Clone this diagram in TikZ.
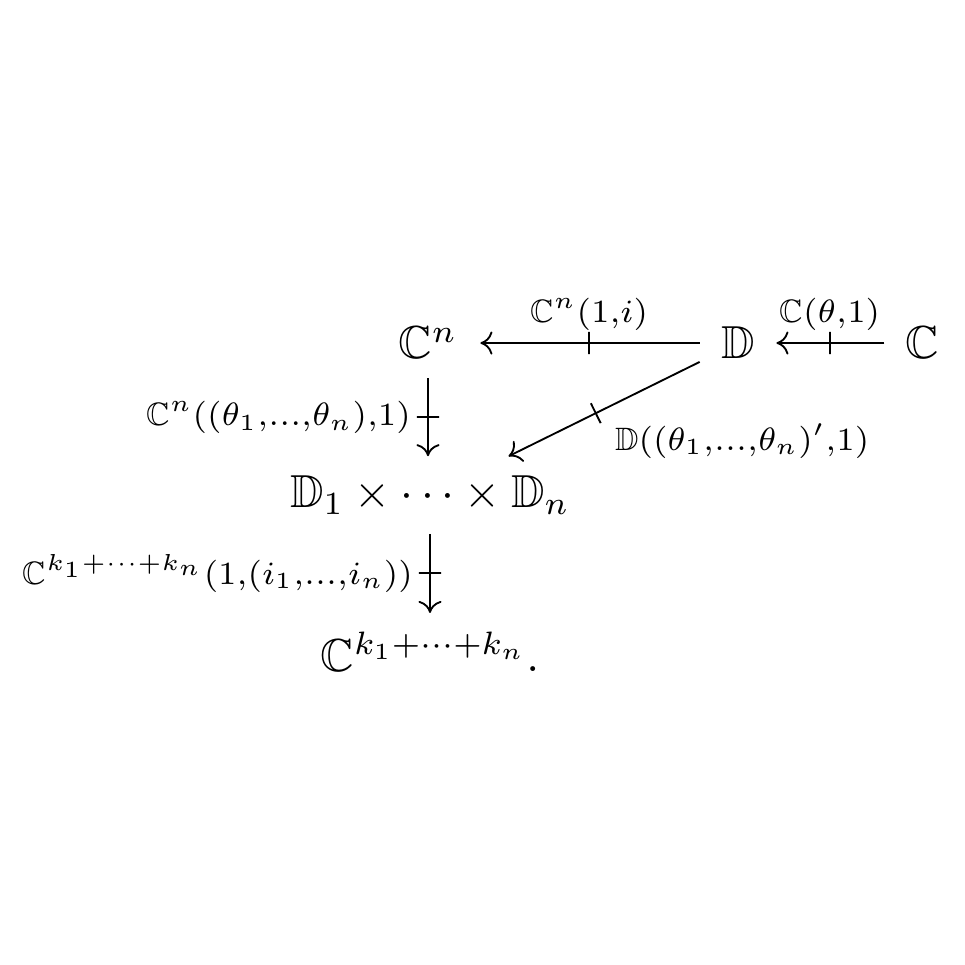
\documentclass[tikz,border=0pt]{standalone}
\usepackage{amssymb}
\usetikzlibrary{arrows.meta}
\begin{document}
\begin{tikzpicture}[x=0.0076cm,y=-0.0076cm,
  obj/.style={inner sep=0pt},
  pro/.style={-{Computer Modern Rightarrow[length=2.6pt,width=5pt]}, line width=0.4pt},
  tick/.style={midway,sloped,draw,line width=0.4pt,inner sep=0pt,minimum width=0pt,minimum height=4.8pt},
  lab/.style={inner sep=1pt}]
\useasboundingbox (0,0) rectangle (965,965);
\node[obj] (Cn) at (428,343) {$\mathbb{C}^n$};
\node[obj] (D) at (738,343) {$\mathbb{D}$};
\node[obj] (C) at (922,343) {$\mathbb{C}$};
\node[obj] (P) at (430,495) {$\mathbb{D}_1\times\cdots\times\mathbb{D}_n$};
\node[obj] (K) at (430,652) {$\mathbb{C}^{k_1+\cdots+k_n}.$};
\draw[pro,shorten <=4.5pt,shorten >=4.8pt] (D) -- node[tick]{} node[lab,midway,above=1.5pt]{$\scriptstyle\mathbb{C}^n(1,i)$} (Cn);
\draw[pro,shorten <=4.3pt,shorten >=4.5pt] (C) -- node[tick]{} node[lab,midway,above=1.5pt]{$\scriptstyle\mathbb{C}(\theta,1)$} (D);
\draw[pro,shorten <=4pt,shorten >=4pt] (Cn.south) -- node[tick]{} node[lab,midway,left=2.5pt]{$\scriptstyle\mathbb{C}^n((\theta_1,\ldots,\theta_n),1)$} (Cn.south |- P.north);
\draw[pro,shorten <=4pt,shorten >=4pt] (P.south) -- node[tick]{} node[lab,midway,left=2.5pt]{$\scriptstyle\mathbb{C}^{k_1+\cdots+k_n}(1,(i_1,\ldots,i_n))$} (P.south |- K.north);
\draw[pro,shorten <=5pt,shorten >=9pt] (D) -- node[tick]{} node[lab,midway,anchor=north west,xshift=3pt,yshift=-1pt]{$\scriptstyle\mathbb{D}((\theta_1,\ldots,\theta_n)',1)$} (P);
\end{tikzpicture}
\end{document}
